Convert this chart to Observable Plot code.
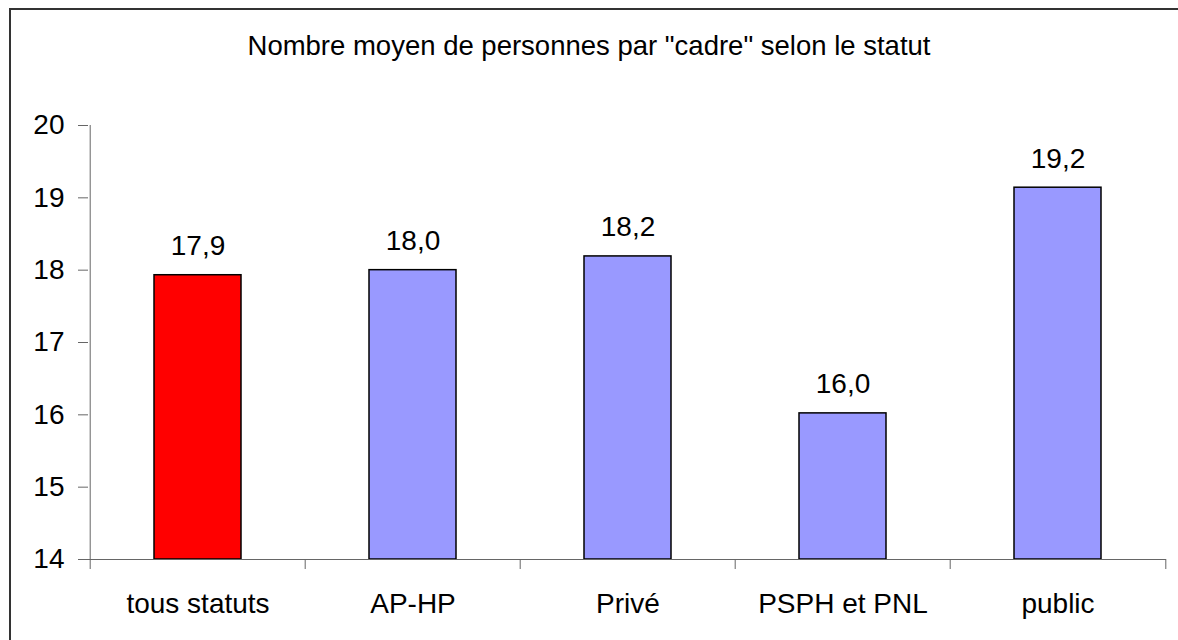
<!DOCTYPE html>
<html><head><meta charset="utf-8">
<script src="https://cdn.jsdelivr.net/npm/d3@7"></script>
<script src="https://cdn.jsdelivr.net/npm/@observablehq/plot@0.6"></script>
<style>
html,body{margin:0;padding:0;background:#fff;overflow:hidden;}
#wrap{position:relative;width:1178px;height:640px;overflow:hidden;font-family:"Liberation Sans",Arial,sans-serif;background:#fff;}
#border{position:absolute;left:9px;top:8px;width:1300px;height:800px;border-left:2px solid #333;border-top:2px solid #333;box-sizing:border-box;}
#title{position:absolute;left:0;top:31px;width:1178px;text-align:center;font-size:27.5px;line-height:30px;color:#000;}
#chart{position:absolute;left:0;top:100px;}
</style></head>
<body>
<div id="wrap">
  <div id="border"></div>
  <div id="title">Nombre moyen de personnes par "cadre" selon le statut</div>
  <div id="chart"></div>
</div>
<script>
const categories = ["tous statuts", "AP-HP", "Privé", "PSPH et PNL", "public"];
const values = [17.93, 18.0, 18.19, 16.02, 19.14];
const valueLabels = ["17,9", "18,0", "18,2", "16,0", "19,2"];
const colors = ["#FF0000", "#9999FF", "#9999FF", "#9999FF", "#9999FF"];
const yTicks = [14, 15, 16, 17, 18, 19, 20];

const data = categories.map((c, i) => ({cat: c, value: values[i], label: valueLabels[i], color: colors[i]}));

const W = 1178, H = 540, ML = 88, MR = 12;
const band = (W - ML - MR) / categories.length;
const axisColor = "#666";
const font = '"Liberation Sans", Arial, sans-serif';
const fs = 28;

const plot = Plot.plot({
  width: W, height: H,
  marginLeft: ML, marginRight: MR, marginTop: 25, marginBottom: 81,
  style: {fontFamily: font, fontSize: fs + "px", color: "#000", background: "transparent", overflow: "visible"},
  x: {domain: categories, padding: 0, label: null},
  y: {domain: [14, 20], label: null},
  color: {type: "identity"},
  marks: [
    Plot.barY(data, {x: "cat", y1: 14, y2: "value", fill: "color", stroke: "#000", strokeWidth: 1.5, insetLeft: 64, insetRight: 64}),
    Plot.ruleY([14], {stroke: axisColor, strokeWidth: 1}),
    Plot.ruleX([categories[0]], {dx: -band / 2, y1: 14, y2: 20, stroke: axisColor, strokeWidth: 1}),
    Plot.axisX({tickSize: 10, tickFormat: () => "", dx: -band / 2, stroke: axisColor, label: null}),
    Plot.axisX({ticks: [categories[categories.length - 1]], tickSize: 10, tickFormat: () => "", dx: band / 2, stroke: axisColor, label: null}),
    Plot.axisX({tickSize: 0, tickPadding: 34, fontSize: fs, fill: "#000", label: null}),
    Plot.axisY({ticks: yTicks, tickSize: 10, tickPadding: 14, stroke: axisColor, fontSize: fs, fill: "#000", tickFormat: d => String(d), label: null}),
    Plot.text(data, {x: "cat", y: "value", text: "label", lineAnchor: "bottom", dy: -20, fontSize: fs, fill: "#000"})
  ]
});
document.getElementById("chart").appendChild(plot);
</script>
</body></html>
